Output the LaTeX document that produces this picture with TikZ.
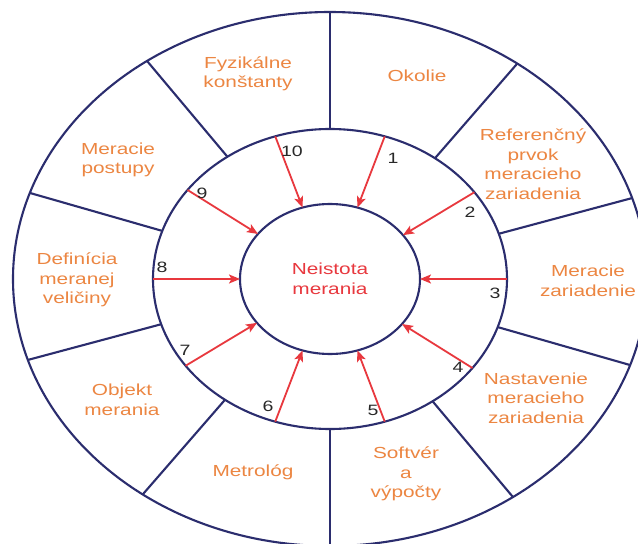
\documentclass[tikz,border=0pt]{standalone}
\usepackage{fontspec}
\usepackage{tikz}
\usetikzlibrary{shapes.geometric,arrows.meta}
\newfontfamily\diafont{Liberation Sans}[FakeStretch=1.3]
\definecolor{ringblue}{RGB}{43,45,110}
\definecolor{labelorange}{RGB}{236,134,66}
\definecolor{causered}{RGB}{232,56,62}
\definecolor{numgray}{RGB}{40,40,40}
\tikzset{
  ring/.style={ellipse, draw=ringblue, line width=2.1pt, inner sep=0pt, outer sep=0pt},
  ringline/.style={draw=ringblue, line width=2.1pt},
  cause/.style={draw=causered, line width=1.8pt, -{Stealth[length=11pt,width=9pt,inset=2.5pt]}},
  sector/.style={text=labelorange, align=center, font=\diafont\fontsize{16}{19.5}\selectfont},
  num/.style={text=numgray, font=\diafont\fontsize{15}{18}\selectfont, inner sep=0pt}
}

\begin{document}
\begin{tikzpicture}[x=1pt,y=1pt]
		 %\draw[help lines] (-330,-265) grid[step=50] (308,279);
		 \useasboundingbox (-330,-265) rectangle (308,279);
		 \fill[white] (-330,-265) rectangle (308,279);
		 \clip (-330,-265) rectangle (308,279);
		 
		 % rings
		 \node[ring, minimum width=634pt, minimum height=534pt] (outer) at (0,0) {};
		 \node[ring, minimum width=354pt, minimum height=300pt] (mid) at (0,0) {};
		 \node[ring, minimum width=180pt, minimum height=150pt,
		       text=causered, align=center,
		       font=\diafont\fontsize{16}{19.5}\selectfont] (core) at (0,0) {Neistota\\merania};
		 
		 % sector borders
		 \foreach \d in {15.4,49.4,90,130.6,164.6,195.4,229.4,270,310.6,344.6}
		   \draw[ringline] (mid.\d) -- (outer.\d);
		 
		 % sources of uncertainty
		 \foreach \d in {0,31.6,69,111,148.4,180,211.6,249,291,328.4}
		   \draw[cause] (mid.\d) -- (core.\d);
		 
		 \node[num] (n1) at (63,121) {1};
		 \node[num] (n2) at (140,67) {2};
		 \node[num] (n3) at (165,-14) {3};
		 \node[num] (n4) at (128,-88) {4};
		 \node[num] (n5) at (43,-131) {5};
		 \node[num] (n6) at (-62,-127) {6};
		 \node[num] (n7) at (-145,-71) {7};
		 \node[num] (n8) at (-168,12) {8};
		 \node[num] (n9) at (-128,86) {9};
		 \node[num] (n10) at (-38,128) {10};
		 
		 \node[sector] (okolie) at (87,203) {Okolie};
		 \node[sector] (referencny) at (203,115) {Referenčný\\prvok\\meracieho\\zariadenia};
		 \node[sector] (zariadenie) at (258,-2) {Meracie\\zariadenie};
		 \node[sector] (nastavenie) at (206,-119) {Nastavenie\\meracieho\\zariadenia};
		 \node[sector] (softver) at (76,-195) {Softvér\\a\\výpočty};
		 \node[sector] (metrolog) at (-77,-193) {Metrológ};
		 \node[sector] (objekt) at (-208,-121) {Objekt\\merania};
		 \node[sector] (definicia) at (-253,-1) {Definícia\\meranej\\veličiny};
		 \node[sector] (postupy) at (-212,119) {Meracie\\postupy};
		 \node[sector] (konstanty) at (-82,205) {Fyzikálne\\konštanty};
		 \end{tikzpicture}
\end{document}
